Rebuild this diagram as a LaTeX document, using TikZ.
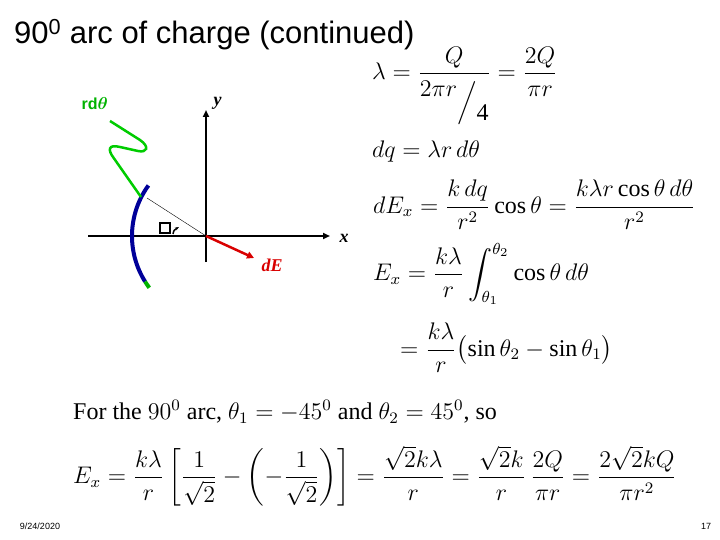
\documentclass[tikz,border=0pt]{standalone}
\usepackage{amsmath}
\usepackage{graphicx}
\usepackage{fontspec}
\setmainfont{Liberation Serif}
\newfontfamily\arial{Liberation Sans}
\usetikzlibrary{arrows.meta}
\newcommand{\bigeq}[1]{\scalebox{2.0}{\fontsize{12}{14}\selectfont #1}}
\begin{document}
\begin{tikzpicture}[x=1pt,y=-1pt,
  eq/.style={anchor=west,inner sep=0pt},
  axis/.style={line width=2pt,-{Triangle[length=7pt,width=6pt]}}]
\useasboundingbox (0,0) rectangle (720,540);
\node[anchor=west,inner sep=0pt,font=\arial\fontsize{31}{34}\selectfont] (title) at (14,35) {90\textsuperscript{0} arc of charge (continued)};
% diagram
\coordinate (O) at (206,236);
\coordinate (xs) at (88,236);
\coordinate (xe) at (330,236);
\coordinate (ys) at (206,262);
\coordinate (ye) at (206,110);
\draw[axis] (xs) -- (xe);
\draw[axis] (ys) -- (ye);
\node[font=\itshape\bfseries\fontsize{18}{20}\selectfont,anchor=west] (xl) at (336,238) {x};
\node[font=\itshape\bfseries\fontsize{18}{20}\selectfont,anchor=west] (yl) at (210,103) {y};
\draw[blue!60!black,line width=4pt] (218,236) ++(148:86) arc[start angle=148,end angle=216,radius=86];
\draw[green!70!black,line width=4pt] (218,236) ++(143:86) arc[start angle=143,end angle=148,radius=86];
\coordinate (G) at (147,198);
\draw[thin] (G) -- (O);
\draw[red!85!black,line width=2.5pt,-{Triangle[length=7pt,width=7pt]}] (O) -- (254,258);
\node[red!85!black,font=\itshape\bfseries\fontsize{18}{20}\selectfont,anchor=west] (dE) at (258,265) {dE};
\draw[green!80!black,line width=2.5pt] (110,121) -- (140,140) .. controls (150,147) and (147,153) .. (138,151) -- (120,147) .. controls (108,144) and (108,150) .. (113,157) -- (141,197);
\node[green!70!black,font=\arial\bfseries\fontsize{16}{18}\selectfont,anchor=west] (rdt) at (78,104) {rd$\boldsymbol{\theta}$};
\node[draw,line width=2pt,minimum size=10pt,inner sep=0pt] (box) at (165,228) {};
\draw[line width=1.5pt,-{Stealth[length=4pt]}] (173,234) .. controls (174,230) .. (179,227);
% equations
\node[eq] (e1) at (372,86) {\bigeq{$\lambda=\dfrac{Q}{2\pi r\raisebox{-1.2ex}{$\Big/$}\raisebox{-2.2ex}{4}}=\dfrac{2Q}{\pi r}$}};
\node[eq] (e2) at (372,152) {\bigeq{$dq=\lambda r\,d\theta$}};
\node[eq] (e3) at (373,205) {\bigeq{$dE_x=\dfrac{k\,dq}{r^2}\cos\theta=\dfrac{k\lambda r\cos\theta\, d\theta}{r^2}$}};
\node[eq] (e4) at (373,274) {\bigeq{$E_x=\dfrac{k\lambda}{r}\displaystyle\int_{\theta_1}^{\theta_2}\cos\theta\,d\theta$}};
\node[eq] (e5) at (400,348) {\bigeq{$=\dfrac{k\lambda}{r}\bigl(\sin\theta_2-\sin\theta_1\bigr)$}};
\node[eq] (e6) at (73,412) {\bigeq{For the $90^0$ arc, $\theta_1=-45^0$ and $\theta_2=45^0$, so}};
\node[eq] (e7) at (73,476) {\bigeq{$E_x=\dfrac{k\lambda}{r}\left[\dfrac{1}{\sqrt2}-\left(-\dfrac{1}{\sqrt2}\right)\right]=\dfrac{\sqrt2 k\lambda}{r}=\dfrac{\sqrt2 k}{r}\,\dfrac{2Q}{\pi r}=\dfrac{2\sqrt2 kQ}{\pi r^2}$}};
\node[font=\arial\fontsize{9}{11}\selectfont] (date) at (40,526) {9/24/2020};
\node[font=\arial\fontsize{9}{11}\selectfont] (pg) at (706,526) {17};
\end{tikzpicture}
\end{document}
